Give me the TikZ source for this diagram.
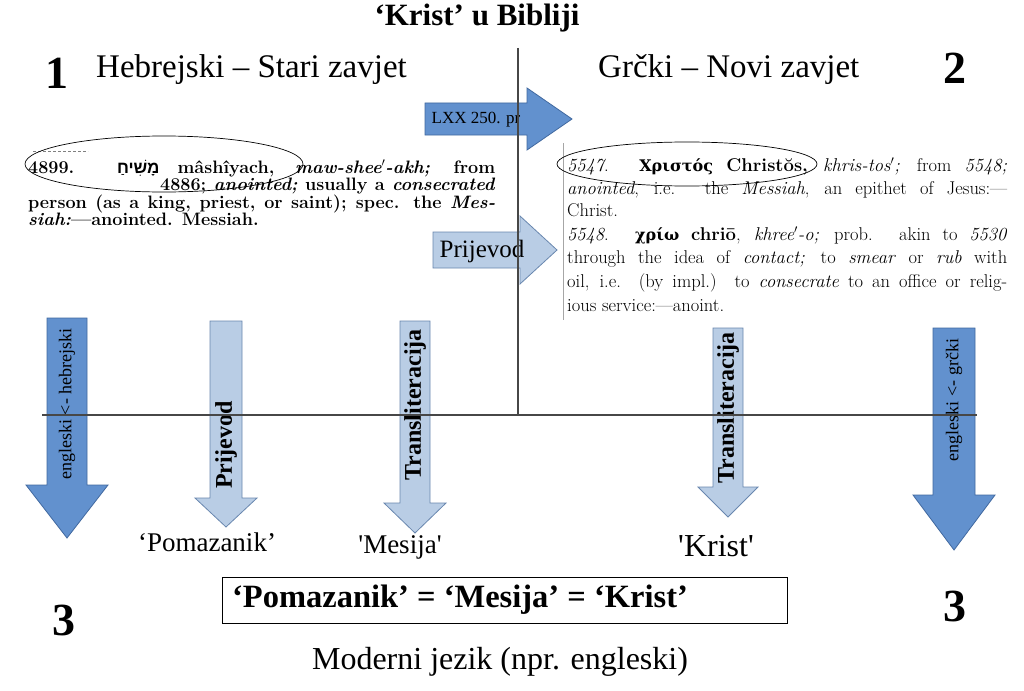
\documentclass[tikz,border=0pt]{standalone}
\usepackage{fontspec}
\usetikzlibrary{shapes.geometric}
\newfontfamily\tnr{Liberation Serif}
\newfontfamily\grk{DejaVu Serif}
\newfontfamily\heb[Script=Hebrew]{Liberation Sans}
\TeXXeTstate=1
\definecolor{darkarrow}{RGB}{98,145,206}
\definecolor{darkedge}{RGB}{65,105,160}
\definecolor{lightarrow}{RGB}{185,205,229}
\definecolor{lightedge}{RGB}{105,135,175}
\newcommand\fs[1]{\fontsize{#1}{#1}\selectfont}
\newcommand\varrow[7]{\path[#1] (#2-#4,#3) -- (#2+#4,#3) -- (#2+#4,#5) -- (#2+#6,#5) -- (#2,#7) -- (#2-#6,#5) -- (#2-#4,#5) -- cycle;}
\newcommand\harrow[7]{\path[#1] (#3,#2-#4) -- (#5,#2-#4) -- (#5,#2-#6) -- (#7,#2) -- (#5,#2+#6) -- (#5,#2+#4) -- (#3,#2+#4) -- cycle;}
\tikzset{
  darkA/.style={fill=darkarrow, draw=darkedge, line width=0.8pt},
  lightA/.style={fill=lightarrow, draw=lightedge, line width=0.8pt},
  lbl/.style={inner sep=0pt, font=\tnr},
  dict/.style={inner sep=0pt, anchor=base west},
  axisline/.style={draw=black!72, line width=1.1pt},
  oval/.style={draw, ellipse, line width=0.7pt, inner sep=0pt},
}
\begin{document}
\begin{tikzpicture}[x=1pt,y=-1pt]
\useasboundingbox[fill=white] (0,0) rectangle (1024,690);

% headings
\node[lbl, font=\tnr\bfseries\fs{31}] (title) at (477,18) {‘Krist’ u Bibliji};
\node[lbl, font=\tnr\bfseries\fs{46}] (n1) at (57,73) {1};
\node[lbl, font=\tnr\fs{33}, anchor=west] (heb) at (96,70) {Hebrejski – Stari zavjet};
\node[lbl, font=\tnr\fs{33}, anchor=west] (grc) at (598,70) {Grčki – Novi zavjet};
\node[lbl, font=\tnr\bfseries\fs{46}] (n2) at (955,68) {2};

% horizontal arrows
\harrow{darkA}{119}{425}{16}{527}{31}{572}
\node[lbl, font=\tnr\fs{17}] (lxx) at (476,120) {LXX 250. pr};
\harrow{lightA}{250}{433}{18}{520}{34}{557}
\node[lbl, font=\tnr\fs{25}] (prh) at (482,251) {Prijevod};

% left dictionary entry
\begin{scope}[font=\bfseries\fs{18}]
\draw[gray, dash pattern=on 3pt off 2pt, line width=0.6pt] (33,151) -- (88,151);
\node[dict] (l1) at (28,173) {\makebox[467pt][s]{4899. {\heb\bfseries\fs{17}\beginR מָשִׁיחַ\endR} mâshîyach, \textit{maw-shee$'$-akh;} from}};
\node[dict] (l2) at (160,190) {\makebox[335pt][s]{4886; \textit{anointed;} usually a \textit{consecrated}}};
\node[dict] (l3) at (28,208) {\makebox[467pt][s]{person (as a king, priest, or saint); spec. the \textit{Mes-}}};
\node[dict] (l4) at (28,225) {\textit{siah:}---anointed. Messiah.};
\end{scope}
\node[oval, minimum width=278pt, minimum height=56pt] (e1) at (164,164) {};

% right dictionary entry
\draw[black!35, line width=0.7pt] (563,143) -- (563,320);
\begin{scope}[font=\fs{18.5}]
\node[dict] (r1) at (567,171) {\makebox[440pt][s]{\textit{5547}. {\grk\bfseries\fs{16}Χριστός} \textbf{Christŏs,} \textit{khris-tos$'$;} from \textit{5548;}}};
\node[dict] (r2) at (567,194) {\makebox[440pt][s]{\textit{anointed}, i.e. the \textit{Messiah}, an epithet of Jesus:---}};
\node[dict] (r3) at (567,216) {Christ.};
\node[dict] (r4) at (567,240) {\makebox[440pt][s]{\textit{5548}. {\grk\bfseries\fs{16}χρίω} \textbf{chriō}, \textit{khree$'$-o;} prob. akin to \textit{5530}}};
\node[dict] (r5) at (567,263) {\makebox[440pt][s]{through the idea of \textit{contact;} to \textit{smear} or \textit{rub} with}};
\node[dict] (r6) at (567,287) {\makebox[440pt][s]{oil, i.e. (by impl.) to \textit{consecrate} to an office or relig-}};
\node[dict] (r7) at (567,311) {ious service:---anoint.};
\end{scope}
\node[oval, minimum width=260pt, minimum height=44pt] (e2) at (687,164) {};

% vertical arrows
\varrow{darkA}{67}{318}{20}{485}{41}{538}
\node[lbl, font=\tnr\fs{18}, rotate=90] (v1) at (67,404) {engleski <- hebrejski};
\varrow{lightA}{226}{321}{16}{498}{31}{527}
\node[lbl, font=\tnr\bfseries\fs{24}, rotate=90] (v2) at (226,445) {Prijevod};
\varrow{lightA}{415}{321}{15}{503}{31}{533}
\node[lbl, font=\tnr\bfseries\fs{24}, rotate=90] (v3) at (415,405) {Transliteracija};
\varrow{lightA}{728}{328}{15}{487}{30}{517}
\node[lbl, font=\tnr\bfseries\fs{24}, rotate=90] (v4) at (728,408) {Transliteracija};
\varrow{darkA}{954}{328}{21}{495}{41}{550}
\node[lbl, font=\tnr\fs{18}, rotate=90] (v5) at (954,400) {engleski <- grčki};

% axes
\coordinate (vtop) at (518,48);
\coordinate (vbot) at (518,415);
\coordinate (hl) at (42,415);
\coordinate (hr) at (977,415);
\draw[axisline] (vtop) -- (vbot);
\draw[axisline] (hl) -- (hr);

% results
\node[lbl, font=\tnr\fs{27}] (pom) at (207,542) {‘Pomazanik’};
\node[lbl, font=\tnr\fs{27}] (mes) at (400,547) {\textquotesingle Mesija\textquotesingle};
\node[lbl, font=\tnr\fs{32}] (kr) at (716,546) {\textquotesingle Krist\textquotesingle};
\node[draw, line width=0.8pt, minimum width=565pt, minimum height=46pt, inner sep=0pt] (box) at (504.5,600) {};
\node[lbl, font=\tnr\bfseries\fs{32.5}] (eq) at (460,600) {‘Pomazanik’ = ‘Mesija’ = ‘Krist’};
\node[lbl, font=\tnr\bfseries\fs{46}] (n3a) at (64,620) {3};
\node[lbl, font=\tnr\bfseries\fs{46}] (n3b) at (955,606) {3};
\node[lbl, font=\tnr\fs{32}] (mod) at (500,662) {Moderni jezik (npr. engleski)};
\end{tikzpicture}
\end{document}
